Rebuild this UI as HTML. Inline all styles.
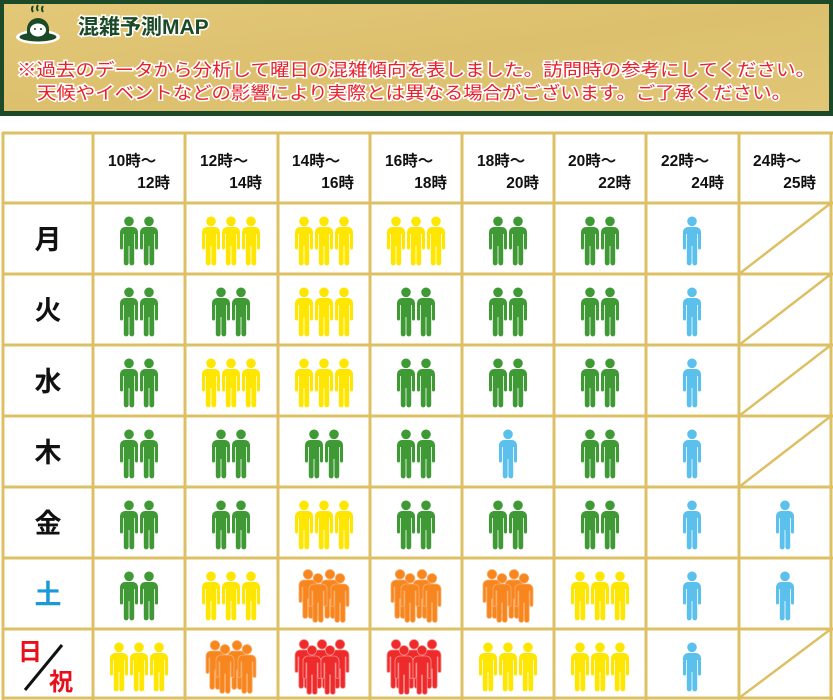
<!DOCTYPE html>
<html><head><meta charset="utf-8"><style>
html,body{margin:0;padding:0;background:#fff;width:833px;height:700px;overflow:hidden}
svg{display:block}
text{font-family:"Liberation Sans","Noto Sans CJK JP",sans-serif}
</style></head><body>
<svg width="833" height="700" viewBox="0 0 833 700" xmlns="http://www.w3.org/2000/svg">
<defs>
<linearGradient id="gold" x1="0" y1="0" x2="1" y2="1">
<stop offset="0" stop-color="#e3c878"/><stop offset="0.5" stop-color="#dcc06e"/><stop offset="1" stop-color="#e0c676"/>
</linearGradient>
<path id="p" d="M6,11 h8 a5,5 0 0 1 5,5 v16 a1.5,1.5 0 0 1 -3,0 v-14 h-0.8 v29 a2.4,2.4 0 0 1 -4.8,0 v-17 h-0.8 v17 a2.4,2.4 0 0 1 -4.8,0 v-29 h-0.8 v14 a1.5,1.5 0 0 1 -3,0 v-16 a5,5 0 0 1 5,-5 z M10,0.5 a4.8,4.8 0 1 1 0,9.6 a4.8,4.8 0 1 1 0,-9.6 z"/>
<g id="B"><use href="#p" x="-10" fill="#5bc0eb"/></g>
<g id="G" fill="#3f9a35"><use href="#p" x="-20"/><use href="#p" x="0"/></g>
<g id="Y" fill="#ffe600"><use href="#p" x="-30"/><use href="#p" x="-10"/><use href="#p" x="10"/></g>
<g id="O" fill="#f7861f" stroke="#fbb070" stroke-width="0.8"><use href="#p" x="-26" y="-2"/><use href="#p" x="-4" y="-2"/><use href="#p" x="-16" y="2"/><use href="#p" x="6" y="2"/></g>
<g id="R" fill="#ee2a2a" stroke="#f79090" stroke-width="0.8"><use href="#p" x="-30" y="-3"/><use href="#p" x="-12" y="-3"/><use href="#p" x="6" y="-3"/><use href="#p" x="-22" y="3"/><use href="#p" x="-4" y="3"/></g>
</defs>
<rect x="0" y="0" width="833" height="116" fill="#1c4a28"/>
<rect x="4" y="4" width="825" height="107" fill="url(#gold)"/>
<g>
<ellipse cx="38" cy="37" rx="22" ry="7" fill="#fff"/>
<ellipse cx="38" cy="37" rx="18.5" ry="4.5" fill="#1c4a28"/>
<path d="M27,38 v-9 a11,11 0 0 1 22,0 v9 z" fill="#1c4a28"/>
<ellipse cx="38" cy="30" rx="8" ry="6.5" fill="#fff"/>
<circle cx="35" cy="29" r="1" fill="#1c4a28"/><circle cx="41" cy="29" r="1" fill="#1c4a28"/>
<path d="M33,6 q-2,3 0,6 M38,5 q-2,3 0,6 M43,6 q-2,3 0,6" stroke="#1c4a28" stroke-width="2" fill="none"/>
</g>
<text x="78" y="34" font-size="21" font-weight="bold" fill="#1c4a28" stroke="#fff" stroke-width="3" paint-order="stroke">混雑予測MAP</text>
<g font-size="17.5" fill="#e8212b" stroke="#fff" stroke-width="3" paint-order="stroke" text-anchor="middle">
<text x="416" y="76" textLength="798" lengthAdjust="spacingAndGlyphs">※過去のデータから分析して曜日の混雑傾向を表しました。訪問時の参考にしてください。</text>
<text x="414" y="99" textLength="754" lengthAdjust="spacingAndGlyphs">天候やイベントなどの影響により実際とは異なる場合がございます。ご了承ください。</text>
</g>
<g stroke="#ddc064" stroke-width="3" fill="none">
<line x1="2" y1="133" x2="833" y2="133"/><line x1="2" y1="203" x2="833" y2="203"/><line x1="2" y1="274" x2="833" y2="274"/><line x1="2" y1="345" x2="833" y2="345"/><line x1="2" y1="416" x2="833" y2="416"/><line x1="2" y1="487" x2="833" y2="487"/><line x1="2" y1="558" x2="833" y2="558"/><line x1="2" y1="629" x2="833" y2="629"/><line x1="2" y1="698" x2="833" y2="698"/>
<line x1="3" y1="132" x2="3" y2="700"/><line x1="93" y1="132" x2="93" y2="700"/><line x1="185" y1="132" x2="185" y2="700"/><line x1="278" y1="132" x2="278" y2="700"/><line x1="370" y1="132" x2="370" y2="700"/><line x1="462" y1="132" x2="462" y2="700"/><line x1="554" y1="132" x2="554" y2="700"/><line x1="646" y1="132" x2="646" y2="700"/><line x1="739" y1="132" x2="739" y2="700"/><line x1="831" y1="132" x2="831" y2="700"/>
<g stroke-width="2.5"><line x1="739" y1="274" x2="831" y2="203"/><line x1="739" y1="345" x2="831" y2="274"/><line x1="739" y1="416" x2="831" y2="345"/><line x1="739" y1="487" x2="831" y2="416"/><line x1="739" y1="698" x2="831" y2="629"/></g>
</g>
<g font-size="15.5" font-weight="bold" fill="#111">
<text x="108" y="166">10時～</text><text x="170" y="188" text-anchor="end">12時</text>
<text x="200" y="166">12時～</text><text x="262" y="188" text-anchor="end">14時</text>
<text x="292" y="166">14時～</text><text x="354" y="188" text-anchor="end">16時</text>
<text x="385" y="166">16時～</text><text x="447" y="188" text-anchor="end">18時</text>
<text x="477" y="166">18時～</text><text x="539" y="188" text-anchor="end">20時</text>
<text x="568" y="166">20時～</text><text x="631" y="188" text-anchor="end">22時</text>
<text x="661" y="166">22時～</text><text x="724" y="188" text-anchor="end">24時</text>
<text x="753" y="166">24時～</text><text x="816" y="188" text-anchor="end">25時</text>
</g>
<g font-size="27" font-weight="bold" text-anchor="middle" fill="#111">
<text x="48" y="249">月</text><text x="48" y="320">火</text><text x="48" y="391">水</text><text x="48" y="462">木</text><text x="48" y="533">金</text>
<text x="48" y="604" fill="#1a9ad6">土</text>
</g>
<text x="18" y="660" font-size="24" font-weight="bold" fill="#e8111b">日</text>
<text x="49" y="690" font-size="24" font-weight="bold" fill="#e8111b">祝</text>
<line x1="25" y1="690" x2="62" y2="645" stroke="#111" stroke-width="3"/>
<g>
<g transform="translate(0,216)"><use href="#G" x="139"/><use href="#Y" x="231"/><use href="#Y" x="324"/><use href="#Y" x="416"/><use href="#G" x="508"/><use href="#G" x="600"/><use href="#B" x="692"/></g>
<g transform="translate(0,287)"><use href="#G" x="139"/><use href="#G" x="231"/><use href="#Y" x="324"/><use href="#G" x="416"/><use href="#G" x="508"/><use href="#G" x="600"/><use href="#B" x="692"/></g>
<g transform="translate(0,358)"><use href="#G" x="139"/><use href="#Y" x="231"/><use href="#Y" x="324"/><use href="#G" x="416"/><use href="#G" x="508"/><use href="#G" x="600"/><use href="#B" x="692"/></g>
<g transform="translate(0,429)"><use href="#G" x="139"/><use href="#G" x="231"/><use href="#G" x="324"/><use href="#G" x="416"/><use href="#B" x="508"/><use href="#G" x="600"/><use href="#B" x="692"/></g>
<g transform="translate(0,500)"><use href="#G" x="139"/><use href="#G" x="231"/><use href="#Y" x="324"/><use href="#G" x="416"/><use href="#G" x="508"/><use href="#G" x="600"/><use href="#B" x="692"/><use href="#B" x="785"/></g>
<g transform="translate(0,571)"><use href="#G" x="139"/><use href="#Y" x="231"/><use href="#O" x="324"/><use href="#O" x="416"/><use href="#O" x="508"/><use href="#Y" x="600"/><use href="#B" x="692"/><use href="#B" x="785"/></g>
<g transform="translate(0,642)"><use href="#Y" x="139"/><use href="#O" x="231"/><use href="#R" x="324"/><use href="#R" x="416"/><use href="#Y" x="508"/><use href="#Y" x="600"/><use href="#B" x="692"/></g>
</g>
</svg>
</body></html>
